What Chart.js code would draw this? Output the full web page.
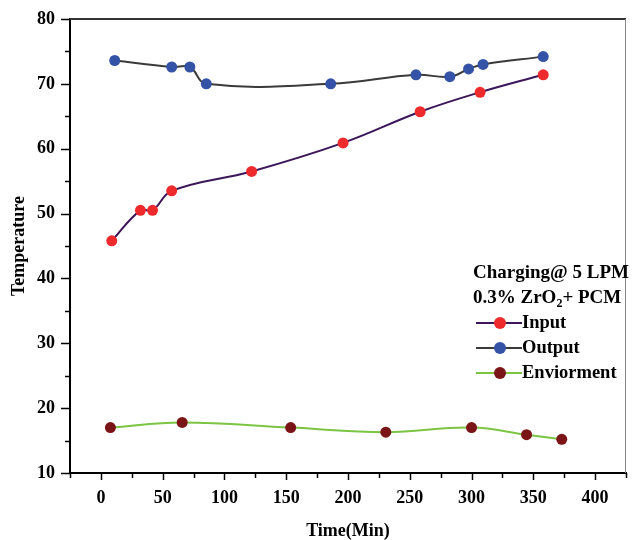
<!DOCTYPE html>
<html>
<head>
<meta charset="utf-8">
<script src="https://cdn.jsdelivr.net/npm/chart.js@4.4.0/dist/chart.umd.min.js"></script>
<style>
  html, body { margin: 0; padding: 0; background: #fff; }
  #wrap { width: 633px; height: 540px; }
</style>
</head>
<body>
<div id="wrap"><canvas id="c" width="633" height="540"></canvas></div>
<script>
// values
const inputX  = [8.8, 32, 41.8, 57.3, 122, 196, 258.4, 306.9, 358];
const inputY  = [45.8, 50.5, 50.5, 53.5, 56.5, 60.9, 65.7, 68.7, 71.4];
const outputX = [11.2, 57.3, 72, 85.3, 186, 255, 282.4, 297.6, 309.3, 358];
const outputY = [73.6, 72.6, 72.6, 70.0, 70.0, 71.4, 71.1, 72.3, 73.0, 74.2];
const envX    = [7.7, 65.8, 153.6, 230.6, 300, 344.5, 373];
const envY    = [17.0, 17.8, 17.0, 16.3, 17.0, 15.9, 15.2];
const seriesNames = ['Input', 'Output', 'Enviorment'];
const legendTitle1 = 'Charging@ 5 LPM';
const legendTitle2 = ['0.3% ZrO', '2', '+ PCM'];
const xTickLabels = [0, 50, 100, 150, 200, 250, 300, 350, 400];
const yTickLabels = [10, 20, 30, 40, 50, 60, 70, 80];

const FONT = '"Liberation Serif", "Times New Roman", serif';

function pts(xs, ys) {
  return xs.map((x, i) => ({x: x, y: ys[i]}));
}

// tick marks (major/minor), frame and legend
const decor = {
  id: 'decor',
  afterDraw(chart) {
    const ctx = chart.ctx;
    const xs = chart.scales.x, ys = chart.scales.y;
    const a = chart.chartArea;
    ctx.save();
    ctx.strokeStyle = '#000';
    ctx.lineWidth = 1.5;
    for (let v = xs.min; v <= xs.max; v += 25) {
      const px = Math.round(xs.getPixelForValue(v)) + 0.5;
      const len = xTickLabels.includes(v) ? 7 : 5;
      ctx.beginPath(); ctx.moveTo(px, a.bottom); ctx.lineTo(px, a.bottom + len); ctx.stroke();
    }
    for (let v = ys.min; v <= ys.max; v += 5) {
      const py = Math.round(ys.getPixelForValue(v)) + 0.5;
      const len = yTickLabels.includes(v) ? 9 : 5;
      ctx.beginPath(); ctx.moveTo(a.left, py); ctx.lineTo(a.left - len, py); ctx.stroke();
    }
    // frame
    ctx.strokeStyle = '#333';
    ctx.lineWidth = 2;
    ctx.beginPath(); ctx.moveTo(a.left, a.top); ctx.lineTo(a.right, a.top); ctx.stroke();
    ctx.strokeStyle = '#888';
    ctx.lineWidth = 1;
    ctx.beginPath(); ctx.moveTo(a.right - 0.5, a.top); ctx.lineTo(a.right - 0.5, a.bottom); ctx.stroke();

    // legend
    const lx = 473, ly = 273, gap = 25;
    ctx.fillStyle = '#000';
    ctx.textBaseline = 'middle';
    ctx.textAlign = 'left';
    ctx.font = 'bold 19px ' + FONT;
    ctx.fillText(legendTitle1, lx, ly);
    let x = lx;
    ctx.fillText(legendTitle2[0], x, ly + gap);
    x += ctx.measureText(legendTitle2[0]).width;
    ctx.font = 'bold 12px ' + FONT;
    ctx.fillText(legendTitle2[1], x, ly + gap + 6);
    x += ctx.measureText(legendTitle2[1]).width;
    ctx.font = 'bold 19px ' + FONT;
    ctx.fillText(legendTitle2[2], x, ly + gap);
    ctx.font = 'bold 18.5px ' + FONT;
    chart.data.datasets.forEach((ds, i) => {
      const y = ly + gap * (i + 2);
      ctx.strokeStyle = ds.borderColor;
      ctx.lineWidth = 2;
      ctx.beginPath(); ctx.moveTo(476, y); ctx.lineTo(522, y); ctx.stroke();
      ctx.fillStyle = ds.pointBackgroundColor;
      ctx.beginPath(); ctx.arc(500, y, 6, 0, Math.PI * 2); ctx.fill();
      ctx.fillStyle = '#000';
      ctx.fillText(ds.label, 522, y);
    });
    ctx.restore();
  }
};

new Chart(document.getElementById('c'), {
  type: 'line',
  data: {
    datasets: [{
      label: seriesNames[0],
      data: pts(inputX, inputY),
      borderColor: '#3b1659',
      pointBackgroundColor: '#ee2a2d',
      pointBorderWidth: 0,
      pointRadius: 5.5,
      borderWidth: 2,
      tension: 0.4
    }, {
      label: seriesNames[1],
      data: pts(outputX, outputY),
      borderColor: '#3a3a3a',
      pointBackgroundColor: '#3553a6',
      pointBorderWidth: 0,
      pointRadius: 5.5,
      borderWidth: 2,
      tension: 0.4
    }, {
      label: seriesNames[2],
      data: pts(envX, envY),
      borderColor: '#7cc443',
      pointBackgroundColor: '#7b1416',
      pointBorderWidth: 0,
      pointRadius: 5.5,
      borderWidth: 2,
      tension: 0.4
    }]
  },
  options: {
    responsive: false,
    animation: false,
    devicePixelRatio: 1,
    layout: { padding: { top: 19, right: 2, left: 0, bottom: 0 } },
    plugins: { legend: { display: false }, tooltip: { enabled: false } },
    scales: {
      x: {
        type: 'linear',
        min: -25, max: 425,
        afterFit: s => { s.height = 67; },
        grid: { display: false },
        border: { display: true, color: '#000', width: 2 },
        ticks: {
          stepSize: 25,
          autoSkip: false,
          maxRotation: 0,
          padding: 7,
          color: '#000',
          font: { family: FONT, size: 18, weight: 'bold' },
          callback: v => xTickLabels.includes(v) ? String(v) : ''
        },
        title: {
          display: true,
          text: 'Time(Min)',
          color: '#000',
          font: { family: FONT, size: 18, weight: 'bold', lineHeight: 1 },
          padding: { top: 0, bottom: 0 }
        }
      },
      y: {
        min: 10, max: 80,
        afterFit: s => { s.width = 70; },
        grid: { display: false },
        border: { display: true, color: '#000', width: 2 },
        ticks: {
          stepSize: 10,
          padding: 7,
          color: '#000',
          font: { family: FONT, size: 18, weight: 'bold' },
          callback: v => yTickLabels.includes(v) ? String(v) : ''
        },
        title: {
          display: true,
          text: 'Temperature',
          color: '#000',
          font: { family: FONT, size: 18, weight: 'bold', lineHeight: 1 },
          padding: { top: 10, bottom: 0 }
        }
      }
    }
  },
  plugins: [decor]
});
</script>
</body>
</html>
